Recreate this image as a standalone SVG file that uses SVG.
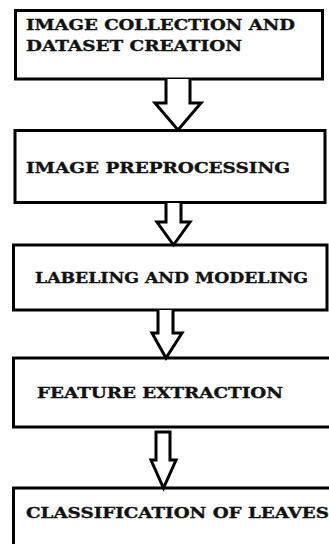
<svg xmlns="http://www.w3.org/2000/svg" width="329" height="544" viewBox="0 0 329 544">
<style>
.box{fill:#fff;stroke:#000;stroke-width:3}
.arr{fill:#fff;stroke:#000;stroke-width:3;stroke-linejoin:miter}
.t{font-family:"DejaVu Serif","Liberation Serif",serif;font-weight:bold;font-size:15px;fill:#111;stroke:#111;stroke-width:0.35}
</style>
<rect width="329" height="544" fill="#fff"/>
<g id="n1"><rect class="box" x="15.5" y="10.5" width="307" height="68.5"/>
<text class="t" x="26" y="29.5" textLength="269" lengthAdjust="spacingAndGlyphs">IMAGE COLLECTION AND</text>
<text class="t" x="26" y="51" textLength="216" lengthAdjust="spacingAndGlyphs">DATASET CREATION</text></g>
<g id="n2"><rect class="box" x="15" y="130.5" width="310" height="72"/>
<text class="t" x="26" y="173" textLength="264" lengthAdjust="spacingAndGlyphs">IMAGE PREPROCESSING</text></g>
<g id="n3"><rect class="box" x="13.5" y="245" width="313.5" height="65"/>
<text class="t" x="35" y="283" textLength="273" lengthAdjust="spacingAndGlyphs">LABELING AND MODELING</text></g>
<g id="n4"><rect class="box" x="13.5" y="358" width="330" height="69"/>
<text class="t" x="37" y="398" textLength="246" lengthAdjust="spacingAndGlyphs">FEATURE EXTRACTION</text></g>
<g id="n5"><rect class="box" x="13.5" y="488" width="330" height="70"/>
<text class="t" x="26" y="518" textLength="303" lengthAdjust="spacingAndGlyphs">CLASSIFICATION OF LEAVES</text></g>
<g id="connectors">
<path class="arr" d="M166,79 V103 H155 L178,130 L201,103 H190 V79"/>
<path class="arr" d="M166,203 V222 H157 L173.5,245 L190,222 H181 V203"/>
<path class="arr" d="M158,310 V333 H152 L166,358 L182,333 H173 V310"/>
<path class="arr" d="M156,432 V460 H151 L163.5,488 L176,460 H170 V432 Z"/>
</g>
</svg>
